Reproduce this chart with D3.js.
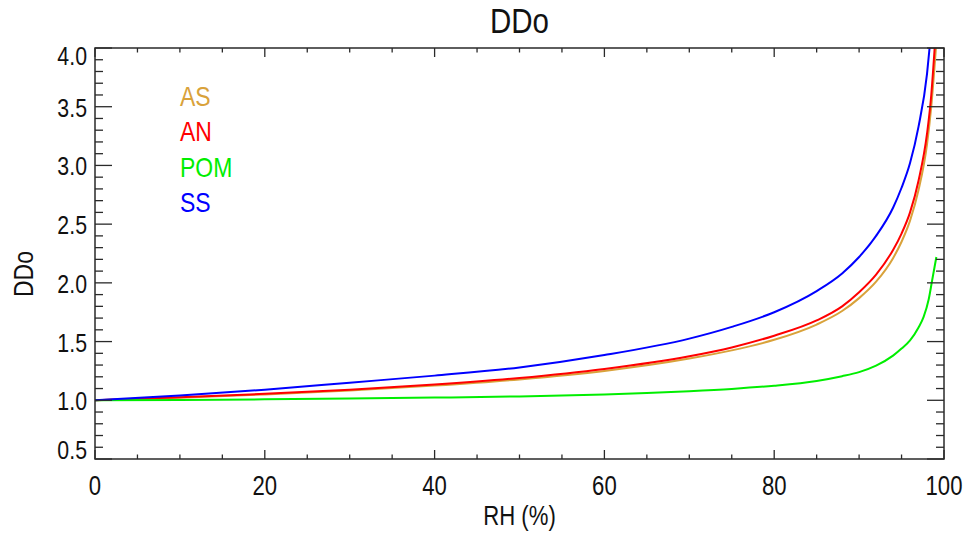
<!DOCTYPE html>
<html lang="en">
<head>
    <meta charset="UTF-8">
    <title>DDo</title>
    <script src="https://cdn.jsdelivr.net/npm/d3@7"></script>
    <style>
        body { margin: 0; background: #fff; }
        text { font-family: "Liberation Sans", Arial, sans-serif; fill: #111; }
    </style>
</head>
<body>
    <div id="chart"></div>
    <script>
        // data: RH (%) and DDo for each aerosol type
        var rhAS  = [0, 10, 20, 30, 40, 50, 60, 70, 75, 80, 85, 88, 90, 92, 94, 95, 96, 97, 98, 98.5, 99.05];
        var ddoAS = [1.0, 1.022, 1.05, 1.083, 1.125, 1.178, 1.25, 1.355, 1.425, 1.515, 1.645, 1.76, 1.87, 2.01, 2.21, 2.35, 2.53, 2.79, 3.18, 3.5, 4.0];

        var rhAN  = [0, 10, 20, 30, 40, 50, 60, 70, 75, 80, 85, 88, 90, 92, 94, 95, 96, 97, 98, 98.5, 98.9];
        var ddoAN = [1.0, 1.025, 1.055, 1.09, 1.134, 1.19, 1.267, 1.375, 1.45, 1.55, 1.68, 1.8, 1.92, 2.07, 2.28, 2.42, 2.6, 2.87, 3.27, 3.6, 4.0];

        var rhPOM  = [0, 10, 20, 30, 40, 50, 60, 65, 70, 75, 80, 85, 88, 90, 92, 94, 95, 96, 97, 97.6, 98.2, 98.6, 99.1];
        var ddoPOM = [1.0, 1.003, 1.008, 1.015, 1.023, 1.033, 1.05, 1.063, 1.078, 1.097, 1.124, 1.165, 1.205, 1.24, 1.295, 1.38, 1.44, 1.51, 1.62, 1.71, 1.86, 2.02, 2.22];

        var rhSS  = [0, 10, 20, 30, 40, 50, 60, 70, 75, 80, 85, 88, 90, 92, 94, 95, 96, 97, 98, 98.3];
        var ddoSS = [1.0, 1.04, 1.09, 1.15, 1.21, 1.28, 1.385, 1.525, 1.625, 1.75, 1.93, 2.08, 2.22, 2.4, 2.64, 2.81, 3.02, 3.33, 3.78, 4.0];

        var seriesNames  = ["AS", "AN", "POM", "SS"];
        var seriesColors = ["#d9a23a", "#ff0000", "#00ee00", "#0000ff"];

        var xMajorTicks = [0, 20, 40, 60, 80, 100];
        var yMajorTicks = [0.5, 1.0, 1.5, 2.0, 2.5, 3.0, 3.5, 4.0];

        var width = 965, height = 535;
        // plot frame (window.top is reserved, so use p* names)
        var pLeft = 95, pRight = 944, pTop = 48, pBottom = 459;
        var squeeze = 0.82; // the original font is a narrow sans

        var svg = d3.select("#chart").append("svg")
            .attr("width", width)
            .attr("height", height);

        var x = d3.scaleLinear().domain([0, 100]).range([pLeft, pRight]);
        var y = d3.scaleLinear().domain([0.5, 4.0]).range([pBottom, pTop]);

        // clip so the curves stop at the frame
        svg.append("clipPath").attr("id", "plotClip")
            .append("rect")
            .attr("x", pLeft).attr("y", pTop)
            .attr("width", pRight - pLeft).attr("height", pBottom - pTop);

        var allSeries = [
            { rh: rhAS, v: ddoAS },
            { rh: rhAN, v: ddoAN },
            { rh: rhPOM, v: ddoPOM },
            { rh: rhSS, v: ddoSS }
        ];

        var line = d3.line()
            .x(function(d) { return x(d[0]); })
            .y(function(d) { return y(d[1]); })
            .curve(d3.curveMonotoneX);

        allSeries.forEach(function(s, i) {
            var pts = s.rh.map(function(r, j) { return [r, s.v[j]]; });
            svg.append("path")
                .attr("d", line(pts))
                .attr("fill", "none")
                .attr("stroke", seriesColors[i])
                .attr("stroke-width", 2)
                .attr("clip-path", "url(#plotClip)");
        });

        // IDL style frame: ticks on all four sides, pointing inward
        var axisColor = "#2a2a2a";
        var xMinor = d3.range(0, 101, 5);
        var yMinor = d3.range(5, 41, 1).map(function(d) { return d / 10; });

        var tickG = svg.append("g")
            .attr("stroke", axisColor)
            .attr("stroke-width", 1.3);

        xMinor.forEach(function(v) {
            var len = xMajorTicks.indexOf(v) >= 0 ? 9 : 4.5;
            tickG.append("line").attr("x1", x(v)).attr("x2", x(v)).attr("y1", pBottom).attr("y2", pBottom - len);
            tickG.append("line").attr("x1", x(v)).attr("x2", x(v)).attr("y1", pTop).attr("y2", pTop + len);
        });
        yMinor.forEach(function(v) {
            var isMajor = yMajorTicks.some(function(m) { return Math.abs(m - v) < 1e-6; });
            var len = isMajor ? 17 : 8;
            tickG.append("line").attr("x1", pLeft).attr("x2", pLeft + len).attr("y1", y(v)).attr("y2", y(v));
            tickG.append("line").attr("x1", pRight).attr("x2", pRight - len).attr("y1", y(v)).attr("y2", y(v));
        });

        svg.append("rect")
            .attr("x", pLeft).attr("y", pTop)
            .attr("width", pRight - pLeft).attr("height", pBottom - pTop)
            .attr("fill", "none")
            .attr("stroke", axisColor)
            .attr("stroke-width", 1.5);

        // narrow text helper: place at (tx, ty) then squeeze horizontally
        function narrowText(tx, ty, str, size, anchor, color, rotate) {
            var t = svg.append("text")
                .attr("transform", "translate(" + tx + "," + ty + ")" + (rotate ? " rotate(-90)" : "") + " scale(" + squeeze + ",1)")
                .attr("text-anchor", anchor)
                .attr("font-size", size)
                .text(str);
            if (color) t.style("fill", color);
            return t;
        }

        // tick labels
        xMajorTicks.forEach(function(d) {
            narrowText(x(d), 495, d, 27, "middle");
        });
        yMajorTicks.forEach(function(d) {
            var by = Math.min(Math.max(y(d) + 10, pTop + 17), pBottom);
            narrowText(87, by, d3.format(".1f")(d), 26, "end");
        });

        // titles
        narrowText((pLeft + pRight) / 2, 33, "DDo", 36, "middle");
        narrowText((pLeft + pRight) / 2, 525, "RH (%)", 27, "middle");
        narrowText(33, 274, "DDo", 28, "middle", null, true);

        // legend, coloured names only
        seriesNames.forEach(function(name, i) {
            narrowText(180, 106 + i * 35.3, name, 28, "start", seriesColors[i]);
        });
    </script>
</body>
</html>
